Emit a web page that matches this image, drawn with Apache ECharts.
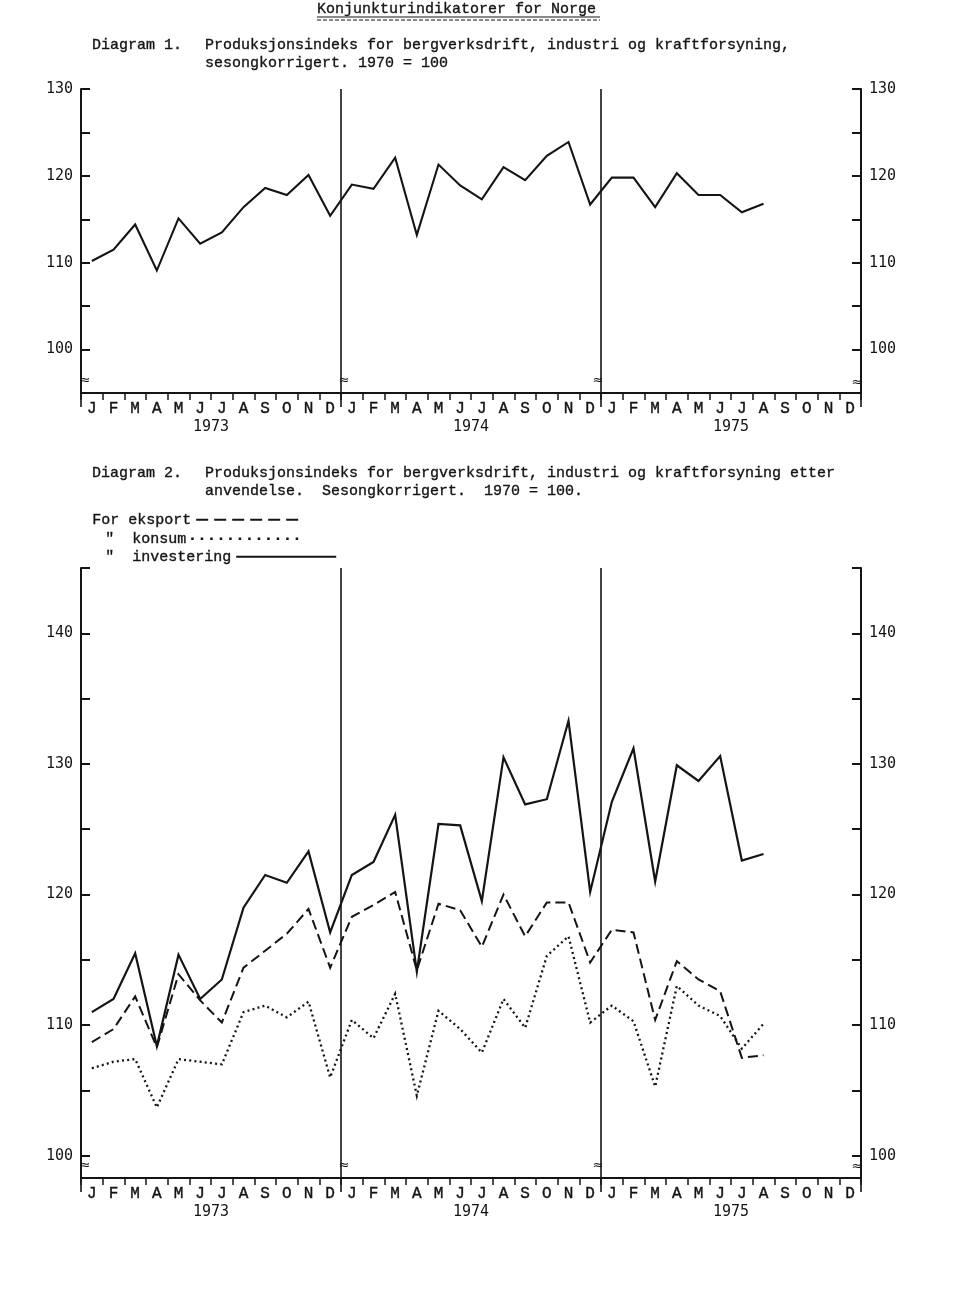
<!DOCTYPE html>
<html>
<head>
<meta charset="utf-8">
<script src="https://cdn.jsdelivr.net/npm/echarts@6/dist/echarts.min.js"></script>
<style>
html,body{margin:0;padding:0;background:#fff;}
#chart{width:960px;height:1290px;}
</style>
</head>
<body>
<div id="chart"></div>
<script>
// ---- data ----
const monthLetters = ['J','F','M','A','M','J','J','A','S','O','N','D'];
const years = ['1973','1974','1975'];

// Diagram 1: produksjonsindeks, sesongkorrigert (Jan 1973 - Aug 1975)
const totalIndex = [110.2, 111.5, 114.4, 109.1, 115.1, 112.2, 113.5, 116.4, 118.6, 117.8, 120.1, 115.4,
                    119.0, 118.5, 122.1, 113.2, 121.3, 118.9, 117.3, 121.0, 119.5, 122.3, 123.9, 116.7,
                    119.8, 119.8, 116.4, 120.3, 117.8, 117.8, 115.8, 116.8];

// Diagram 2: etter anvendelse
const eksport = [108.7, 109.7, 112.2, 108.3, 113.9, 111.9, 110.2, 114.4, 115.7, 117.0, 118.9, 114.4,
                 118.3, 119.2, 120.2, 114.2, 119.3, 118.8, 116.0, 120.0, 116.8, 119.4, 119.4, 114.8,
                 117.3, 117.1, 110.4, 114.9, 113.5, 112.6, 107.5, 107.7];
const konsum = [106.7, 107.2, 107.4, 103.7, 107.4, 107.2, 107.0, 111.0, 111.5, 110.6, 111.8, 106.0,
                110.4, 109.0, 112.4, 104.6, 111.1, 109.7, 107.9, 112.0, 109.8, 115.3, 116.8, 110.2,
                111.5, 110.3, 105.3, 113.0, 111.5, 110.7, 108.2, 110.1];
const investering = [111.0, 112.0, 115.5, 108.4, 115.4, 112.0, 113.5, 119.0, 121.5, 120.9, 123.3, 117.1,
                     121.5, 122.5, 126.1, 114.1, 125.4, 125.3, 119.5, 130.5, 126.9, 127.3, 133.3, 120.2,
                     127.1, 131.2, 121.0, 129.9, 128.7, 130.6, 122.6, 123.1];

// tick values
const ticks1 = [100, 105, 110, 115, 120, 125, 130];
const labels1 = [100, 110, 120, 130];
const ticks2 = [100, 105, 110, 115, 120, 125, 130, 135, 140, 145];
const labels2 = [100, 110, 120, 130, 140];

const seriesNames = ['For eksport', '"  konsum', '"  investering'];

// ---- build ----
const monthCats = [];
years.forEach(y => monthLetters.forEach((m, i) => monthCats.push(y + '-' + i)));
const ink = '#141414';
const monoFont = 'Liberation Mono';
const numFont = 'DejaVu Sans Mono';

function monthAxis(grid) {
  return {
    type: 'category', gridIndex: grid, data: monthCats, boundaryGap: true, position: 'bottom',
    axisLine: {show: true, lineStyle: {color: ink, width: 2}},
    axisTick: {show: true, interval: 0, length: 7, inside: false, lineStyle: {color: ink, width: 1.5}},
    axisLabel: {interval: 0, margin: 8, color: ink, fontFamily: monoFont, fontSize: 16,
      textBorderColor: ink, textBorderWidth: 0.4,
      formatter: v => monthLetters[parseInt(v.split('-')[1], 10)]},
    splitLine: {show: false}
  };
}
function yearAxis(grid) {
  return {
    type: 'category', gridIndex: grid, data: years, boundaryGap: true, position: 'bottom',
    axisLine: {show: false},
    axisTick: {show: true, interval: 0, length: 14, lineStyle: {color: ink, width: 1.6}},
    axisLabel: {interval: 0, margin: 27, color: ink, fontFamily: numFont, fontSize: 15},
    splitLine: {show: true, interval: 0, lineStyle: {color: ink, width: 1.6}}
  };
}
function valAxis(grid, pos, min, max, ticks, labels) {
  return {
    type: 'value', gridIndex: grid, position: pos, min: min, max: max,
    axisLine: {show: true, lineStyle: {color: ink, width: 2}},
    axisTick: {show: true, inside: true, length: 9, customValues: ticks, lineStyle: {color: ink, width: 2}},
    axisLabel: {show: true, customValues: labels, margin: 8, color: ink, fontFamily: numFont, fontSize: 15},
    splitLine: {show: false}
  };
}
function lineSeries(name, data, xi, yi, type, width) {
  return {
    name: name, type: 'line', xAxisIndex: xi, yAxisIndex: yi, data: data,
    symbol: 'none', smooth: false, silent: true,
    lineStyle: {color: ink, width: width, type: type, cap: 'butt', join: 'miter'},
    itemStyle: {color: ink}
  };
}

function txt(text, x, y, size, align) {
  return {type: 'text', x: x, y: y, silent: true,
    style: {text: text, fill: ink, stroke: ink, lineWidth: 0.35,
      font: size + 'px "' + monoFont + '"', align: align || 'left', verticalAlign: 'middle'}};
}
function brk(x, y) {
  return {type: 'text', x: x, y: y, silent: true,
    style: {text: '≈', fill: ink, font: '13px "DejaVu Sans"', align: 'center', verticalAlign: 'middle'}};
}
function legendOf(name, left, top, w, lineStyle) {
  return {
    data: [name], left: left, top: top, padding: 0, align: 'right', itemWidth: w, itemHeight: 14,
    selectedMode: false,
    lineStyle: lineStyle,
    itemStyle: {color: 'rgba(0,0,0,0)', borderColor: 'rgba(0,0,0,0)', borderWidth: 0, opacity: 0},
    textStyle: {color: ink, fontFamily: monoFont, fontSize: 15, textBorderColor: ink, textBorderWidth: 0.35}
  };
}

const option = {
  animation: false,
  backgroundColor: '#ffffff',
  grid: [
    {left: 81, top: 89, width: 780, height: 304, containLabel: false},
    {left: 81, top: 568, width: 780, height: 610, containLabel: false}
  ],
  xAxis: [monthAxis(0), yearAxis(0), monthAxis(1), yearAxis(1)],
  yAxis: [
    valAxis(0, 'left', 95, 130, ticks1, labels1),
    valAxis(0, 'right', 95, 130, ticks1, labels1),
    valAxis(1, 'left', 98.3, 145, ticks2, labels2),
    valAxis(1, 'right', 98.3, 145, ticks2, labels2)
  ],
  legend: [
    legendOf(seriesNames[0], 92, 512, 108, {type: [12, 6], width: 2}),
    legendOf(seriesNames[1], 105, 531, 114, {type: [2.5, 7], width: 2.5}),
    legendOf(seriesNames[2], 105, 549, 100, {type: 'solid', width: 2})
  ],
  series: [
    lineSeries('Produksjonsindeks', totalIndex, 0, 0, 'solid', 2.1),
    lineSeries(seriesNames[0], eksport, 2, 2, [10, 5], 2),
    lineSeries(seriesNames[1], konsum, 2, 2, [2, 3.2], 2.3),
    lineSeries(seriesNames[2], investering, 2, 2, 'solid', 2.2)
  ],
  graphic: [
    txt('Konjunkturindikatorer for Norge', 317, 9, 15),
    {type: 'line', silent: true, shape: {x1: 317, y1: 17, x2: 600, y2: 17}, style: {stroke: ink, lineWidth: 1}},
    {type: 'line', silent: true, shape: {x1: 317, y1: 20, x2: 600, y2: 20}, style: {stroke: ink, lineWidth: 1, lineDash: [4, 2]}},
    txt('Diagram 1.', 92, 45, 15),
    txt('Produksjonsindeks for bergverksdrift, industri og kraftforsyning,', 205, 45, 15),
    txt('sesongkorrigert. 1970 = 100', 205, 63, 15),
    txt('Diagram 2.', 92, 473, 15),
    txt('Produksjonsindeks for bergverksdrift, industri og kraftforsyning etter', 205, 473, 15),
    txt('anvendelse.  Sesongkorrigert.  1970 = 100.', 205, 491, 15),
    brk(85, 381), brk(344, 381), brk(598, 381), brk(857, 383),
    brk(85, 1166), brk(344, 1166), brk(598, 1166), brk(857, 1167)
  ]
};

const chart = echarts.init(document.getElementById('chart'), null, {renderer: 'canvas'});
chart.setOption(option);
</script>
</body>
</html>
